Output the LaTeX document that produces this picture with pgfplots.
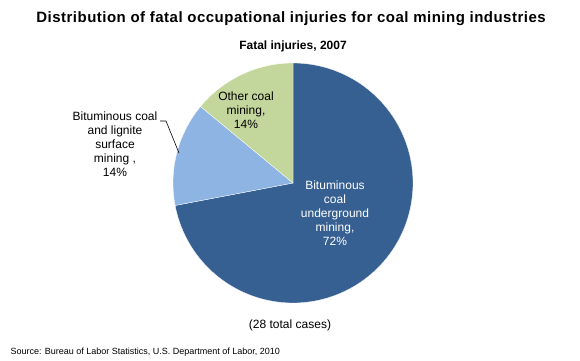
\documentclass[border=0pt]{standalone}
\usepackage{fontspec}
\setmainfont{Liberation Sans}
\usepackage{pgfplots}
\usepackage{pgfplotstable}
\pgfplotsset{compat=1.18}
\definecolor{cUnder}{RGB}{55,96,146}
\definecolor{cSurf}{RGB}{142,180,227}
\definecolor{cOther}{RGB}{195,214,155}
\pgfplotstableread{
share
72
14
14
}\piedata
\begin{document}
\begin{tikzpicture}
\pgfplotstablegetelem{0}{share}\of\piedata \let\sa\pgfplotsretval
\pgfplotstablegetelem{1}{share}\of\piedata \let\sb\pgfplotsretval
\pgfplotstablegetelem{2}{share}\of\piedata \let\sc\pgfplotsretval
\pgfmathsetmacro\angA{90-3.6*\sa}
\pgfmathsetmacro\angB{\angA-3.6*\sb}
\pgfmathsetmacro\angC{\angB-3.6*\sc}
\begin{axis}[
  scale only axis, width=580pt, height=360pt,
  xmin=0, xmax=580, ymin=0, ymax=360,
  hide axis, clip=false,
]
\path (axis cs:0,0) rectangle (axis cs:580,360);
\addplot[fill=cUnder, draw=white, line width=0.3pt, domain=\angA:90, samples=120]
  ({293+120*cos(x)}, {177+120*sin(x)}) -- (axis cs:293,177) -- cycle;
\addplot[fill=cSurf, draw=white, line width=0.3pt, domain=\angB:\angA, samples=40]
  ({293+120*cos(x)}, {177+120*sin(x)}) -- (axis cs:293,177) -- cycle;
\addplot[fill=cOther, draw=white, line width=0.3pt, domain=\angC:\angB, samples=40]
  ({293+120*cos(x)}, {177+120*sin(x)}) -- (axis cs:293,177) -- cycle;
\node[font=\bfseries\fontsize{15}{17}\selectfont\addfontfeature{LetterSpace=3.3}] at (axis cs:291,341) {Distribution of fatal occupational injuries for coal mining industries};
\node[font=\bfseries\fontsize{12}{14}\selectfont] at (axis cs:293,314) {Fatal injuries, 2007};
\node[font=\fontsize{12}{14}\selectfont, align=center, text=black] at (axis cs:246,250) {Other coal\\mining,\\14\%};
\node[font=\fontsize{12}{14}\selectfont, align=center, text=white] at (axis cs:335,147) {Bituminous\\coal\\underground\\mining,\\72\%};
\node[font=\fontsize{12}{14}\selectfont, align=center, text=black] at (axis cs:115,216) {Bituminous coal\\and lignite\\surface\\mining ,\\14\%};
\draw[black, line width=0.6pt] (axis cs:160,239) -- (axis cs:166,239) -- (axis cs:179,207);
\node[font=\fontsize{12}{14}\selectfont] at (axis cs:290,35) {(28 total cases)};
\node[font=\fontsize{9}{11}\selectfont, anchor=west] at (axis cs:7,8) {Source: Bureau of Labor Statistics, U.S. Department of Labor, 2010};
\end{axis}
\end{tikzpicture}
\end{document}
